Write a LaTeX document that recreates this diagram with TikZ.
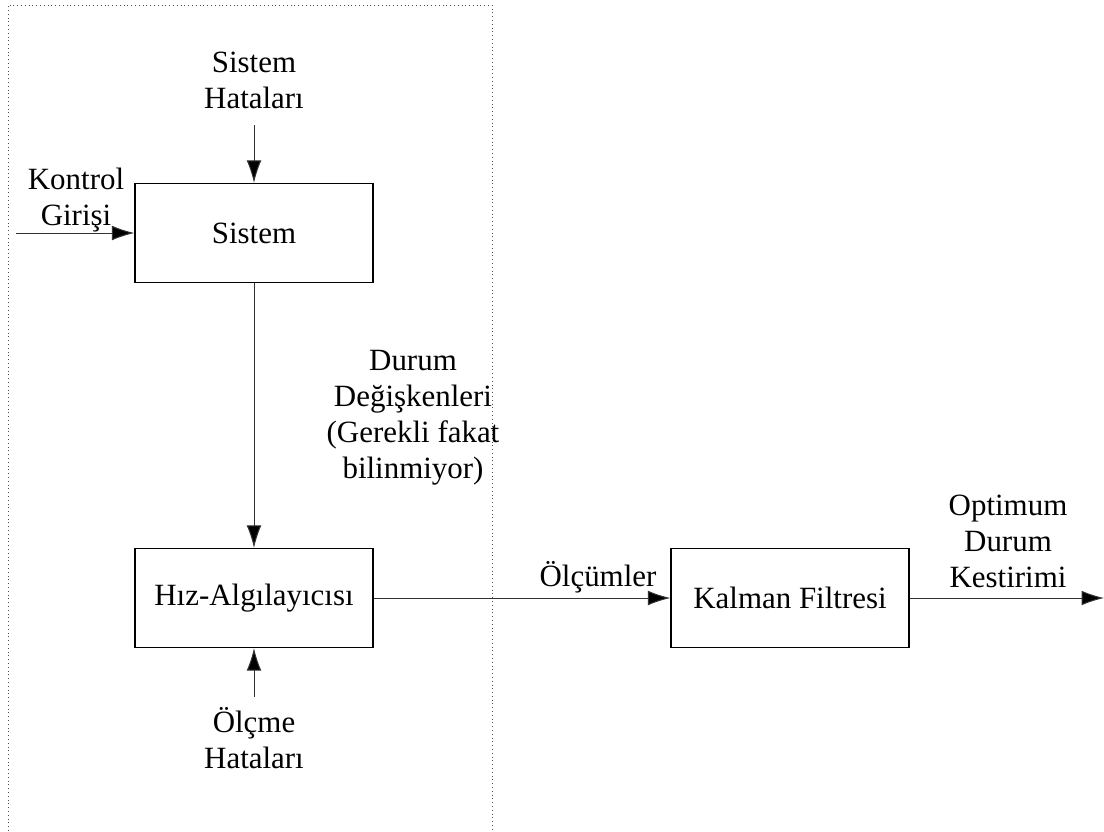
\documentclass[tikz,border=0pt]{standalone}
\usepackage{fontspec}
\setmainfont{Liberation Serif}
\usepackage{tikz}
\usetikzlibrary{positioning,calc,arrows.meta}

\begin{document}
\begin{tikzpicture}[x=0.025cm,y=-0.025cm,
                blok/.style={draw,line width=0.8pt,minimum width=5.95cm,minimum height=2.475cm,
                           font=\fontsize{22}{25.6}\selectfont,inner sep=2pt},
                etiket/.style={font=\fontsize{22}{25.6}\selectfont,align=center,inner sep=1pt},
                ok/.style={draw=black!80,line width=0.7pt,-{Latex[length=16pt,width=10.5pt,fill=black]}}
            ]
                \useasboundingbox (0,0) rectangle (1104,831);
                % kesikli cerceve
                \draw[black!70,dotted,line width=0.7pt] (8,831) -- (8,5) -- (492,5) -- (492,831);
                % bloklar
                \node[blok] (sistem) at (254,233) {Sistem};
                \node[blok] (hiz) at (254,598) {Hız-Algılayıcısı};
                \node[blok] (kalman) at (790,598) {Kalman Filtresi};
                % etiketler
                \node[etiket] (sishata) at (254,80) {Sistem\\Hataları};
                \node[etiket] (kontrol) at (76,200) {Kontrol\\Girişi};
                \node[etiket] (durum) at (413,418) {Durum\\Değişkenleri\\(Gerekli fakat\\bilinmiyor)};
                \node[etiket] (olcme) at (254,738) {Ölçme\\Hataları};
                \node[etiket] (olcumler) at (598,577) {Ölçümler};
                \node[etiket] (optimum) at (1008,541) {Optimum\\Durum\\Kestirimi};
                % serbest uclar
                \coordinate (shbas) at (254,125);
                \coordinate (kgbas) at (16,233);
                \coordinate (ohbas) at (254,697);
                \coordinate (cikis) at (1104,598);
                % oklar
                \draw[ok] (shbas) -- (sistem);
                \draw[ok] (kgbas) -- (sistem);
                \draw[ok] (sistem) -- (hiz);
                \draw[ok] (ohbas) -- (hiz);
                \draw[ok] (hiz) -- (kalman);
                \draw[ok] (kalman) -- (cikis);
            \end{tikzpicture}
\end{document}
